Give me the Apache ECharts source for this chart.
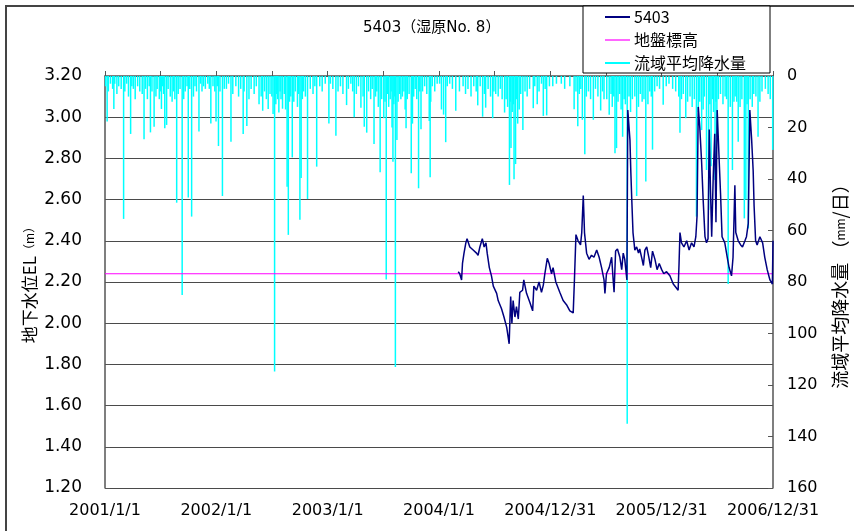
<!DOCTYPE html>
<html>
<head>
<meta charset="utf-8">
<script src="https://cdn.jsdelivr.net/npm/echarts@6.0.0/dist/echarts.min.js"></script>
<style>
  html, body { margin: 0; padding: 0; background: #fff; }
  #chart { width: 854px; height: 531px; }
</style>
</head>
<body>
<div id="chart"></div>
<script>
// x axis: days counted from 2001/1/1, major step 365 days
const xStart = '2001-01-01';
const xEnd = '2006-12-31';
const xStep = 365;

const groundLevel = 2.24; // 地盤標高

// 5403 groundwater level (m)
const wellDates = [
  '2004-03-04','2004-03-09','2004-03-15','2004-03-18','2004-03-23','2004-03-29','2004-04-02','2004-04-11',
  '2004-04-22','2004-05-03','2004-05-08','2004-05-14','2004-05-22','2004-05-28','2004-06-03','2004-06-07',
  '2004-06-14','2004-06-21','2004-06-27','2004-07-08','2004-07-13','2004-07-24','2004-08-01','2004-08-10',
  '2004-08-15','2004-08-18','2004-08-23','2004-08-27','2004-08-31','2004-09-06','2004-09-11','2004-09-17',
  '2004-09-22','2004-10-01','2004-10-05','2004-10-14','2004-10-25','2004-11-03','2004-11-07','2004-11-16',
  '2004-11-24','2004-12-02','2004-12-08','2004-12-13','2004-12-21','2004-12-27','2005-01-04','2005-01-09',
  '2005-01-18','2005-01-31','2005-02-11','2005-02-22','2005-03-05','2005-03-16','2005-03-20','2005-03-25',
  '2005-04-01','2005-04-09','2005-04-13','2005-04-18','2005-04-22','2005-04-29','2005-05-07','2005-05-15',
  '2005-05-23','2005-06-01','2005-06-09','2005-06-17','2005-06-25','2005-06-28','2005-07-03','2005-07-12',
  '2005-07-20','2005-07-25','2005-07-28','2005-08-02','2005-08-08','2005-08-16','2005-08-22','2005-08-27',
  '2005-09-01','2005-09-08','2005-09-11','2005-09-18','2005-09-21','2005-09-24','2005-09-28','2005-10-04',
  '2005-10-10','2005-10-16','2005-10-20','2005-10-27','2005-11-01','2005-11-06','2005-11-12','2005-11-19',
  '2005-11-25','2005-12-01','2005-12-09','2005-12-16','2005-12-23','2005-12-31','2006-01-07','2006-01-16',
  '2006-01-27','2006-02-07','2006-02-18','2006-02-23','2006-02-26','2006-03-01','2006-03-06','2006-03-14',
  '2006-03-23','2006-03-31','2006-04-08','2006-04-16','2006-04-22','2006-04-26','2006-04-30','2006-05-05',
  '2006-05-11','2006-05-16','2006-05-22','2006-05-27','2006-06-01','2006-06-05','2006-06-09','2006-06-13',
  '2006-06-18','2006-06-23','2006-06-27','2006-07-01','2006-07-07','2006-07-12','2006-07-17','2006-07-26',
  '2006-08-03','2006-08-09','2006-08-17','2006-08-22','2006-08-28','2006-08-31','2006-09-08','2006-09-16',
  '2006-09-22','2006-09-30','2006-10-05','2006-10-11','2006-10-16','2006-10-22','2006-10-27','2006-10-30',
  '2006-11-04','2006-11-09','2006-11-18','2006-11-27','2006-12-04','2006-12-12','2006-12-21','2006-12-29',
  '2006-12-31'
];
const wellValues = [
  2.25,2.24,2.21,2.29,2.34,2.39,2.41,2.37,
  2.355,2.34,2.33,2.37,2.41,2.37,2.39,2.34,
  2.27,2.23,2.18,2.145,2.11,2.07,2.03,1.98,
  1.93,1.90,2.13,2.00,2.11,2.03,2.08,2.02,
  2.15,2.16,2.21,2.145,2.10,2.06,2.18,2.16,
  2.20,2.15,2.185,2.24,2.315,2.29,2.24,2.27,
  2.20,2.15,2.11,2.09,2.06,2.05,2.21,2.43,
  2.40,2.38,2.44,2.62,2.44,2.34,2.31,2.33,
  2.32,2.355,2.32,2.27,2.21,2.145,2.24,2.27,
  2.32,2.21,2.15,2.35,2.36,2.32,2.26,2.34,
  2.31,2.21,3.035,2.89,2.73,2.60,2.44,2.355,
  2.37,2.34,2.36,2.315,2.28,2.355,2.37,2.32,
  2.27,2.35,2.31,2.26,2.29,2.26,2.24,2.25,
  2.23,2.19,2.17,2.16,2.29,2.44,2.39,2.37,
  2.40,2.355,2.39,2.37,2.42,2.52,3.05,2.95,
  2.78,2.60,2.42,2.39,2.41,2.94,2.65,2.42,
  2.71,2.92,2.49,3.035,2.81,2.63,2.42,2.39,
  2.32,2.27,2.23,2.32,2.67,2.44,2.40,2.38,
  2.37,2.40,2.42,2.485,3.035,2.89,2.74,2.57,
  2.40,2.38,2.42,2.39,2.32,2.26,2.21,2.19,
  2.40
];

// 流域平均降水量 (mm/day): larger events
const rainBig = [
  ['2001-01-08',17.7],['2001-01-30',12.8],['2001-03-03',55.5],['2001-03-26',22.5],['2001-05-09',24.6],
  ['2001-05-30',21.9],['2001-06-11',19.7],['2001-07-05',12.8],['2001-07-16',20.3],['2001-07-22',19],
  ['2001-08-09',10],['2001-08-24',49.2],['2001-09-11',85],['2001-10-01',47.2],['2001-10-12',54.6],
  ['2001-11-05',21.6],['2001-12-14',18.4],['2001-12-31',17.7],['2002-01-08',27.2],['2002-01-21',46.6],
  ['2002-02-18',25.5],['2002-03-30',22.5],['2002-04-11',19.4],['2002-05-21',11],['2002-06-02',13.5],
  ['2002-06-20',12.8],['2002-07-06',14.8],['2002-07-11',114.8],['2002-07-25',14.2],['2002-08-06',12.7],
  ['2002-08-21',43],['2002-08-25',61.7],['2002-09-07',31.6],['2002-10-02',55.8],['2002-10-06',39.6],
  ['2002-10-27',47.8],['2002-11-26',35.2],['2003-01-05',18.4],['2003-01-28',23.2],['2003-03-04',11.3],
  ['2003-03-29',16],['2003-04-20',12.3],['2003-05-01',19.7],['2003-05-09',22],['2003-06-02',26.4],
  ['2003-06-16',12],['2003-06-22',37.4],['2003-07-04',16.4],['2003-07-12',79],['2003-07-31',20],
  ['2003-08-03',33.3],['2003-08-11',113],['2003-08-16',24.9],['2003-09-12',13],['2003-09-15',20.3],
  ['2003-10-02',37.8],['2003-10-06',18.5],['2003-10-26',43.6],['2003-11-03',20.7],['2003-11-30',17.5],
  ['2003-12-03',39.3],['2003-12-05',10],['2004-01-09',13],['2004-01-16',15],['2004-01-23',25.7],
  ['2004-02-25',13.5],['2004-05-07',11.4],['2004-05-23',15.8],['2004-06-02',12.3],['2004-06-25',16.4],
  ['2004-07-13',8],['2004-08-03',14.2],['2004-08-19',42.3],['2004-08-24',28],['2004-09-03',40.1],
  ['2004-09-08',34.2],['2004-09-15',18.5],['2004-10-02',21],['2004-11-05',12.5],['2004-11-18',11],
  ['2004-12-08',15.5],['2004-12-19',15.3],['2005-03-19',12.9],['2005-03-31',19.5],['2005-04-15',17],
  ['2005-04-23',30.4],['2005-05-21',17],['2005-06-14',13.4],['2005-07-12',15],['2005-07-31',30],
  ['2005-08-05',28],['2005-08-25',23.6],['2005-09-09',135],['2005-10-10',46.6],['2005-11-09',41],
  ['2005-12-01',28.6],['2006-01-05',11.2],['2006-03-01',22],['2006-03-20',16.4],['2006-04-24',54.6],
  ['2006-05-11',21],['2006-05-27',36.5],['2006-06-03',52],['2006-06-11',35],['2006-06-24',40.4],
  ['2006-06-30',23.6],['2006-08-06',80.8],['2006-08-20',36.5],['2006-09-08',25.5],['2006-09-28',55.3],
  ['2006-10-03',48],['2006-10-11',59.2],['2006-11-12',23.6],['2006-12-30',28.7]
];

// 流域平均降水量 (mm/day): small events
const rainSmall = [
  ['2001-01-03',4],['2001-01-12',6],['2001-01-19',3],['2001-01-26',5],['2001-02-02',3],['2001-02-09',7],
  ['2001-02-15',4],['2001-02-23',5],['2001-03-07',6],['2001-03-13',3],['2001-03-19',8],['2001-03-30',4],
  ['2001-04-04',5],['2001-04-10',9],['2001-04-18',4],['2001-04-25',6],['2001-05-03',7],['2001-05-14',5],
  ['2001-05-20',9],['2001-05-26',4],['2001-06-04',6],['2001-06-17',8],['2001-06-21',5],['2001-06-28',9],
  ['2001-07-02',6],['2001-07-09',4],['2001-07-12',7],['2001-07-27',5],['2001-08-03',8],['2001-08-14',6],
  ['2001-08-18',9],['2001-08-29',7],['2001-09-04',5],['2001-09-16',9],['2001-09-21',6],['2001-09-27',4],
  ['2001-10-06',5],['2001-10-18',8],['2001-10-23',4],['2001-10-28',6],['2001-11-10',3],['2001-11-15',6],
  ['2001-11-20',4],['2001-11-26',5],['2001-12-04',3],['2001-12-09',5],['2001-12-21',4],['2001-12-27',6],
  ['2002-01-04',4],['2002-01-13',6],['2002-01-27',5],['2002-02-03',5],['2002-02-10',3],['2002-02-24',7],
  ['2002-03-06',4],['2002-03-15',8],['2002-03-22',5],['2002-04-02',6],['2002-04-18',9],['2002-04-25',5],
  ['2002-05-05',7],['2002-05-12',4],['2002-05-28',8],['2002-06-08',6],['2002-06-14',9],['2002-06-26',7],
  ['2002-07-02',8],['2002-07-15',11],['2002-07-18',7],['2002-07-21',9],['2002-07-29',6],['2002-08-01',9],
  ['2002-08-12',7],['2002-08-16',13],['2002-08-29',10],['2002-09-02',8],['2002-09-12',10],['2002-09-17',6],
  ['2002-09-24',12],['2002-09-28',7],['2002-10-10',9],['2002-10-14',6],['2002-10-20',8],['2002-11-05',5],
  ['2002-11-14',7],['2002-11-20',4],['2002-12-06',4],['2002-12-14',6],['2002-12-24',3],
  ['2003-01-10',3],['2003-01-18',5],['2003-02-04',6],['2003-02-12',4],['2003-02-20',7],['2003-03-10',5],
  ['2003-03-18',3],['2003-03-24',6],['2003-04-05',7],['2003-04-12',4],['2003-04-27',8],['2003-05-15',6],
  ['2003-05-22',9],['2003-05-27',5],['2003-06-07',8],['2003-06-11',6],['2003-06-27',9],['2003-07-08',10],
  ['2003-07-16',7],['2003-07-20',12],['2003-07-25',9],['2003-07-28',6],['2003-08-06',11],['2003-08-09',8],
  ['2003-08-20',10],['2003-08-25',7],['2003-08-29',9],['2003-09-03',8],['2003-09-08',6],['2003-09-19',9],
  ['2003-09-25',7],['2003-10-10',8],['2003-10-15',5],['2003-10-20',9],['2003-10-30',6],['2003-11-08',6],
  ['2003-11-15',4],['2003-11-22',7],['2003-12-10',4],['2003-12-18',6],['2003-12-26',3],
  ['2004-01-03',3],['2004-01-28',4],['2004-02-05',3],['2004-02-14',5],['2004-03-08',6],['2004-03-20',4],
  ['2004-03-28',7],['2004-04-05',5],['2004-04-15',8],['2004-04-24',4],['2004-05-02',6],['2004-05-15',4],
  ['2004-05-29',7],['2004-06-10',5],['2004-06-18',8],['2004-06-29',6],['2004-07-05',7],['2004-07-20',5],
  ['2004-07-26',9],['2004-08-08',9],['2004-08-13',12],['2004-08-22',10],['2004-08-28',14],['2004-09-01',11],
  ['2004-09-12',9],['2004-09-20',13],['2004-09-25',7],['2004-10-09',6],['2004-10-16',8],['2004-10-24',5],
  ['2004-11-10',4],['2004-11-24',6],['2004-12-02',3],['2004-12-14',5],['2004-12-28',4],
  ['2005-01-08',4],['2005-01-20',3],['2005-02-05',3],['2005-02-16',5],['2005-03-05',4],['2005-03-25',6],
  ['2005-04-05',7],['2005-04-10',5],['2005-04-28',8],['2005-05-05',6],['2005-05-12',9],['2005-05-28',5],
  ['2005-06-05',8],['2005-06-20',6],['2005-06-25',9],['2005-07-04',9],['2005-07-18',7],['2005-07-22',12],
  ['2005-07-27',8],['2005-08-10',10],['2005-08-15',7],['2005-08-20',13],['2005-08-30',9],['2005-09-03',11],
  ['2005-09-15',8],['2005-09-20',14],['2005-09-26',9],['2005-10-04',8],['2005-10-16',12],['2005-10-22',7],
  ['2005-10-28',10],['2005-11-03',9],['2005-11-16',11],['2005-11-22',6],['2005-11-27',8],['2005-12-08',6],
  ['2005-12-16',4],['2005-12-24',5],
  ['2006-01-15',4],['2006-01-24',3],['2006-02-05',5],['2006-02-15',6],['2006-02-25',8],['2006-03-06',9],
  ['2006-03-12',7],['2006-03-26',10],['2006-04-03',8],['2006-04-10',12],['2006-04-17',9],['2006-04-30',14],
  ['2006-05-05',10],['2006-05-16',13],['2006-05-20',8],['2006-06-07',11],['2006-06-16',9],['2006-06-19',14],
  ['2006-06-27',10],['2006-07-05',9],['2006-07-12',7],['2006-07-20',11],['2006-07-27',8],['2006-08-01',9],
  ['2006-08-13',12],['2006-08-25',10],['2006-08-29',8],['2006-09-03',10],['2006-09-14',12],['2006-09-20',9],
  ['2006-10-07',11],['2006-10-17',9],['2006-10-24',12],['2006-10-29',7],['2006-11-05',8],['2006-11-18',10],
  ['2006-11-25',6],['2006-12-06',5],['2006-12-15',7],['2006-12-22',9]
];

const leftTicks = { min: 1.2, max: 3.2, step: 0.2 };
const rightTicks = { min: 0, max: 160, step: 20 };

const DAY = 86400000;
function toDay(s) {
  const p = s.split('-').map(Number);
  return (Date.UTC(p[0], p[1] - 1, p[2]) - Date.UTC(2001, 0, 1)) / DAY;
}
function dayLabel(v) {
  const d = new Date(Date.UTC(2001, 0, 1) + v * DAY);
  return d.getUTCFullYear() + '/' + (d.getUTCMonth() + 1) + '/' + d.getUTCDate();
}

const xMin = toDay(xStart);
const xMax = toDay(xEnd);
const wellData = wellDates.map((d, i) => [toDay(d), wellValues[i]]);
const rainData = rainSmall.concat(rainBig).map(r => [toDay(r[0]), r[1]]);
const groundData = [[xMin, groundLevel], [xMax, groundLevel]];

const FONT = '"Noto Sans CJK JP", "Noto Sans", sans-serif';
const NUMFONT = '"DejaVu Sans", "Noto Sans CJK JP", sans-serif';
const axisGray = '#555';

const chart = echarts.init(document.getElementById('chart'));
chart.setOption({
  animation: false,
  backgroundColor: '#fff',
  textStyle: { fontFamily: FONT, color: '#000' },
  graphic: [{
    type: 'rect', z: -10,
    shape: { x: 6, y: 6, width: 900, height: 600 },
    style: { fill: 'none', stroke: '#444', lineWidth: 2 }
  }],
  title: {
    text: '5403（湿原No. 8）',
    left: 363, top: 21, padding: 0,
    textStyle: { fontFamily: NUMFONT, fontSize: 15, fontWeight: 'normal', color: '#000' }
  },
  legend: {
    orient: 'vertical',
    left: 583, top: 6,
    padding: [3, 24, 2, 22],
    backgroundColor: '#fff',
    borderColor: '#000', borderWidth: 1, borderRadius: 0,
    icon: 'rect', itemWidth: 25, itemHeight: 2, itemGap: 7,
    textStyle: { fontFamily: FONT, fontSize: 16, lineHeight: 16, color: '#000', padding: [0, 0, 0, -1] },
    data: ['5403', '地盤標高', '流域平均降水量']
  },
  grid: { left: 105, right: 81, top: 76, bottom: 43, containLabel: false, outerBoundsMode: 'none' },
  xAxis: {
    type: 'value',
    min: xMin, max: xMax, interval: xStep,
    axisLine: { show: true, lineStyle: { color: axisGray, width: 1.5 } },
    axisTick: { show: true, inside: true, length: 5, lineStyle: { color: axisGray } },
    minorTick: { show: true, splitNumber: 2, length: 5, lineStyle: { color: axisGray } },
    splitLine: { show: false },
    axisLabel: { fontFamily: NUMFONT, fontSize: 16, color: '#000', margin: 15, formatter: dayLabel }
  },
  yAxis: [{
    type: 'value',
    min: leftTicks.min, max: leftTicks.max, interval: leftTicks.step,
    name: '地下水位EL{s|（m）}',
    nameLocation: 'middle', nameGap: 67, nameMoveOverlap: false,
    nameTextStyle: { fontFamily: FONT, fontSize: 17, color: '#000', rich: { s: { fontFamily: FONT, fontSize: 12, color: '#000' } } },
    axisLine: { show: true, lineStyle: { color: axisGray, width: 1.5 } },
    axisTick: { show: true, inside: true, length: 5, lineStyle: { color: axisGray } },
    splitLine: { show: true, lineStyle: { color: '#4a4a4a', width: 1 } },
    axisLabel: { fontFamily: NUMFONT, fontSize: 17, color: '#000', margin: 23, formatter: v => v.toFixed(2) }
  }, {
    type: 'value',
    position: 'right',
    inverse: true,
    min: rightTicks.min, max: rightTicks.max, interval: rightTicks.step,
    name: '流域平均降水量 （{s|mm}/日）',
    nameLocation: 'middle', nameGap: 58, nameMoveOverlap: false,
    nameTextStyle: { fontFamily: FONT, fontSize: 18, color: '#000', rich: { s: { fontFamily: FONT, fontSize: 12, color: '#000' } } },
    axisLine: { show: true, lineStyle: { color: axisGray, width: 1.5 } },
    axisTick: { show: true, inside: true, length: 5, lineStyle: { color: axisGray } },
    splitLine: { show: false },
    axisLabel: { fontFamily: NUMFONT, fontSize: 16, color: '#000', margin: 14 }
  }],
  series: [{
    name: '流域平均降水量',
    type: 'bar',
    yAxisIndex: 1,
    barWidth: 1.5,
    itemStyle: { color: '#00ffff' },
    data: rainData,
    z: 2
  }, {
    name: '地盤標高',
    type: 'line',
    showSymbol: false,
    lineStyle: { color: '#ff00ff', width: 1 },
    itemStyle: { color: '#ff66ff' },
    data: groundData,
    z: 3
  }, {
    name: '5403',
    type: 'line',
    showSymbol: false,
    lineStyle: { color: '#000080', width: 1.5 },
    itemStyle: { color: '#000080' },
    data: wellData,
    z: 4
  }]
});
</script>
</body>
</html>
